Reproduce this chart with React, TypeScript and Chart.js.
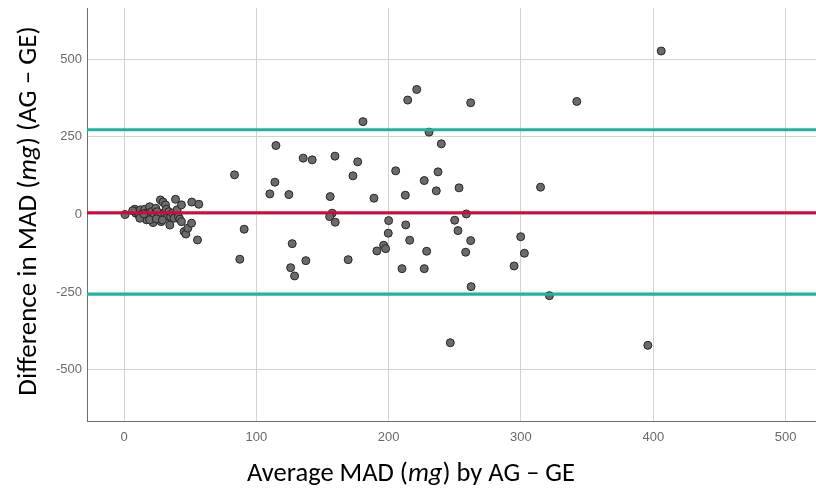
import React, { useEffect, useRef } from "react";
import { Chart, registerables } from "chart.js";

Chart.register(...registerables);

// Average MAD (mg) by AG – GE
const avgMAD: number[] = [
  0.8, 8.1, 8.9, 10.1, 11.3, 12.4, 13.9, 14.9, 15.7, 16.9, 17.7, 18.9, 19.4, 20.7, 21.9, 22.7, 24, 25, 26, 27.5,
  28, 29.5, 30.3, 31.3, 32, 32.8, 33.8, 34.6, 35.3, 36.6, 37.8, 38.9, 40.1, 41.1, 42.1, 43.4, 43.4, 45.4, 46.7, 48.2,
  51, 51.2, 56.5, 55.5, 11.9, 19.4, 6.5, 24.5, 29, 15,
  221.2, 214.4, 262.0, 180.6, 230.5, 239.8, 114.8, 135.4, 142.2, 159.4, 176.6, 83.5, 114.0, 173.0, 205.3, 226.9,
  237.3, 236.0, 253.2, 110.2, 124.6, 155.8, 188.9, 212.6, 157.3, 155.4, 159.6, 258.7, 90.8, 200.0, 212.9, 249.9,
  199.7, 252.4, 299.8, 127.1, 215.9, 262.0, 196.2, 197.7, 191.1, 228.7, 258.2, 87.5, 137.4, 169.4, 125.9, 128.9,
  210.1, 226.9, 294.8, 262.3, 302.6, 314.8, 246.6, 406.0, 342.2, 321.5, 395.9,
];

// Difference in MAD (mg) (AG – GE)
const diffMAD: number[] = [
  0, 17, 4, 9, -1, 15, 4, -9, 17, -17, 6, -5, 25, 9, -26, -5, 20, 9, -7, 47,
  -23, 40, 6, 31, 17, -7, 9, -34, -7, 4, -12, 49, 15, -7, -15, 31, -23, -55, -63, -44,
  -28, 40, 33, -82, -12, -17, 12, -14, -18, 2,
  402.6, 368.5, 359.8, 299.0, 265.3, 227.6, 222.1, 181.5, 176.0, 187.9, 169.6, 127.7, 104.1, 124.4, 140.6, 109.3,
  137.3, 76.1, 85.8, 66.4, 64.2, 57.7, 52.5, 62.2, 4.2, -6.8, -24.8, 1.9, -47.4, -19.7, -33.5, -18.4,
  -60.3, -51.9, -71.6, -93.8, -82.8, -84.1, -99.0, -109.9, -117.3, -118.3, -121.5, -144.1, -148.6, -145.4, -171.2, -197.9,
  -174.4, -174.4, -165.7, -232.4, -124.8, 88.0, -413.0, 526.4, 364.0, -261.4, -421.3,
];

const meanDiff = 6;
const upperLoA = 273;
const lowerLoA = -257;

const xTicks = [0, 100, 200, 300, 400, 500];
const yTicks = [-500, -250, 0, 250, 500];
const xRange = [-28, 523];
const yRange = [-665, 665];

const xTitle = [
  { t: "Average MAD (", i: false },
  { t: "mg", i: true },
  { t: ") by AG \u2013 GE", i: false },
];
const yTitle = [
  { t: "Difference in MAD (", i: false },
  { t: "mg", i: true },
  { t: ") (AG \u2013 GE)", i: false },
];

const TITLE_FONT = "Carlito, Calibri, Lato, sans-serif";

function drawRich(ctx: CanvasRenderingContext2D, parts: { t: string; i: boolean }[], cx: number, cy: number, size: number) {
  const fontFor = (it: boolean) => `${it ? "italic " : ""}${size}px ${TITLE_FONT}`;
  let total = 0;
  const widths = parts.map((p) => {
    ctx.font = fontFor(p.i);
    const w = ctx.measureText(p.t).width;
    total += w;
    return w;
  });
  let x = cx - total / 2;
  ctx.textBaseline = "middle";
  ctx.textAlign = "left";
  ctx.fillStyle = "#000";
  parts.forEach((p, k) => {
    ctx.font = fontFor(p.i);
    ctx.fillText(p.t, x, cy);
    x += widths[k];
  });
}

const titlePlugin = {
  id: "richTitles",
  afterDraw(chart: any) {
    const ctx: CanvasRenderingContext2D = chart.ctx;
    ctx.save();
    drawRich(ctx, xTitle, 411, 474, 26.5);
    ctx.translate(29, 211);
    ctx.rotate(-Math.PI / 2);
    drawRich(ctx, yTitle, 0, 0, 27);
    ctx.restore();
  },
};

export default function App() {
  const ref = useRef<HTMLCanvasElement | null>(null);

  useEffect(() => {
    if (!ref.current) return;
    const points = avgMAD.map((x, k) => ({ x, y: diffMAD[k] }));
    const hLine = (v: number) => [
      { x: xRange[0], y: v },
      { x: xRange[1], y: v },
    ];
    const lineDs = (v: number, color: string) => ({
      data: hLine(v),
      showLine: true,
      borderColor: color,
      borderWidth: 3,
      pointRadius: 0,
      pointHoverRadius: 0,
      order: 1,
    });
    const chart = new Chart(ref.current, {
      type: "scatter",
      data: {
        datasets: [
          lineDs(upperLoA, "#1db4a0"),
          lineDs(lowerLoA, "#1db4a0"),
          lineDs(meanDiff, "#d6073b"),
          {
            data: points,
            backgroundColor: "#6b6b6b",
            borderColor: "#262626",
            borderWidth: 1,
            pointRadius: 4,
            order: 2,
          } as any,
        ],
      },
      options: {
        responsive: false,
        animation: false,
        layout: { autoPadding: false, padding: { top: 8, right: 0, left: 0, bottom: 0 } },
        plugins: { legend: { display: false }, tooltip: { enabled: false } },
        scales: {
          x: {
            type: "linear",
            min: xRange[0],
            max: xRange[1],
            afterBuildTicks: (axis: any) => {
              axis.ticks = xTicks.map((v) => ({ value: v }));
            },
            afterFit: (scale: any) => {
              scale.height = 74;
              scale.paddingLeft = 0;
              scale.paddingRight = 0;
            },
            grid: { color: "#d3d3d3", lineWidth: 1, drawTicks: false },
            border: { color: "#6f6f6f", width: 1 },
            ticks: {
              padding: 9,
              color: "#6a6a6a",
              font: { family: "'Liberation Sans', Arial, sans-serif", size: 13 },
            },
          },
          y: {
            type: "linear",
            min: yRange[0],
            max: yRange[1],
            afterBuildTicks: (axis: any) => {
              axis.ticks = yTicks.map((v) => ({ value: v }));
            },
            afterFit: (scale: any) => {
              scale.width = 87;
              scale.paddingTop = 0;
              scale.paddingBottom = 0;
            },
            grid: { color: "#d3d3d3", lineWidth: 1, drawTicks: false },
            border: { color: "#6f6f6f", width: 1 },
            ticks: {
              padding: 5,
              color: "#6a6a6a",
              font: { family: "'Liberation Sans', Arial, sans-serif", size: 13 },
            },
          },
        },
      },
      plugins: [titlePlugin],
    } as any);
    return () => chart.destroy();
  }, []);

  return (
    <div style={{ position: "fixed", left: 0, top: 0, width: 816, height: 495, background: "#fff" }}>
      <canvas ref={ref} width={816} height={495} />
    </div>
  );
}
